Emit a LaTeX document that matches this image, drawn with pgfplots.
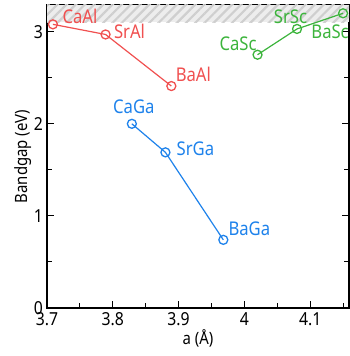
\documentclass[border=0pt]{standalone}
\usepackage{pgfplots}
\pgfplotsset{compat=1.18}
\usepackage{fontspec}
\setmainfont[FakeStretch=0.88]{Noto Sans}
\usetikzlibrary{patterns.meta}
\definecolor{cred}{RGB}{240,80,80}
\definecolor{cgreen}{RGB}{60,180,60}
\definecolor{cblue}{RGB}{30,130,235}
\begin{document}
\begin{tikzpicture}[x=1bp,y=1bp]
\begin{axis}[
  scale only axis, width=302bp, height=303bp,
  xmin=3.7, xmax=4.159, ymin=0, ymax=3.29,
  xtick={3.7,3.8,3.9,4.0,4.1}, xticklabels={3.7,3.8,3.9,4,4.1},
  ytick={0,1,2,3},
  minor xtick={3.75,3.85,3.95,4.05,4.15},
  minor ytick={0.5,1.5,2.5},
  tick align=inside, tick pos=both,
  major tick length=7bp, minor tick length=5bp,
  axis line style={line width=1.5bp}, tick style={line width=1bp, black},
  every tick label/.style={font=\fontsize{18}{20}\selectfont},
  xticklabel style={inner sep=2bp, yshift=-2bp},
  yticklabel style={inner sep=2bp, xshift=-2bp},
  /pgf/number format/assume math mode=true,
  label style={font=\fontsize{17}{19}\selectfont},
  xlabel={a (Å)}, ylabel={Bandgap (eV)},
  xlabel style={yshift=1bp}, ylabel style={yshift=-3bp},
  clip=true,
]
\addplot[draw=none, fill=gray!14] coordinates {(3.7,3.1) (4.159,3.1) (4.159,3.29) (3.7,3.29)} -- cycle;
\addplot[draw=none, pattern={Lines[angle=45,distance=6.5bp,line width=2.2bp]}, pattern color=gray!38] coordinates {(3.7,3.1) (4.159,3.1) (4.159,3.29) (3.7,3.29)} -- cycle;
\pgfplotsset{lbl/.style={nodes near coords, point meta=explicit symbolic,
  visualization depends on={value \thisrow{dx} \as \ldx},
  visualization depends on={value \thisrow{dy} \as \ldy},
  every node near coord/.append style={anchor=center, xshift=\ldx bp, yshift=\ldy bp, text=#1, inner sep=0bp, font=\fontsize{19}{21}\selectfont}}}
\addplot[cred, line width=1.2bp, mark=o, mark size=4.5bp, mark options={line width=1.3bp}, lbl=cred]
  table[meta=label] {
  x y label dx dy
  3.709 3.08 CaAl 27 8
  3.789 2.97 SrAl 24 3
  3.889 2.41 BaAl 22 12
};
\addplot[cblue, line width=1.2bp, mark=o, mark size=4.5bp, mark options={line width=1.3bp}, lbl=cblue]
  table[meta=label] {
  x y label dx dy
  3.829 2.00 CaGa 2 17
  3.880 1.69 SrGa 30 4
  3.968 0.74 BaGa 26 11.5
};
\addplot[cgreen, line width=1.2bp, mark=o, mark size=4.5bp, mark options={line width=1.3bp}, lbl=cgreen]
  table[meta=label] {
  x y label dx dy
  4.020 2.75 CaSc -19.5 11
  4.080 3.03 SrSc -6.5 12.5
  4.150 3.20 BaSc -13 -18
};
\end{axis}
\useasboundingbox ([xshift=-47bp,yshift=-48bp]current axis.south west) rectangle ([xshift=1bp,yshift=5bp]current axis.north east);
\end{tikzpicture}
\end{document}
